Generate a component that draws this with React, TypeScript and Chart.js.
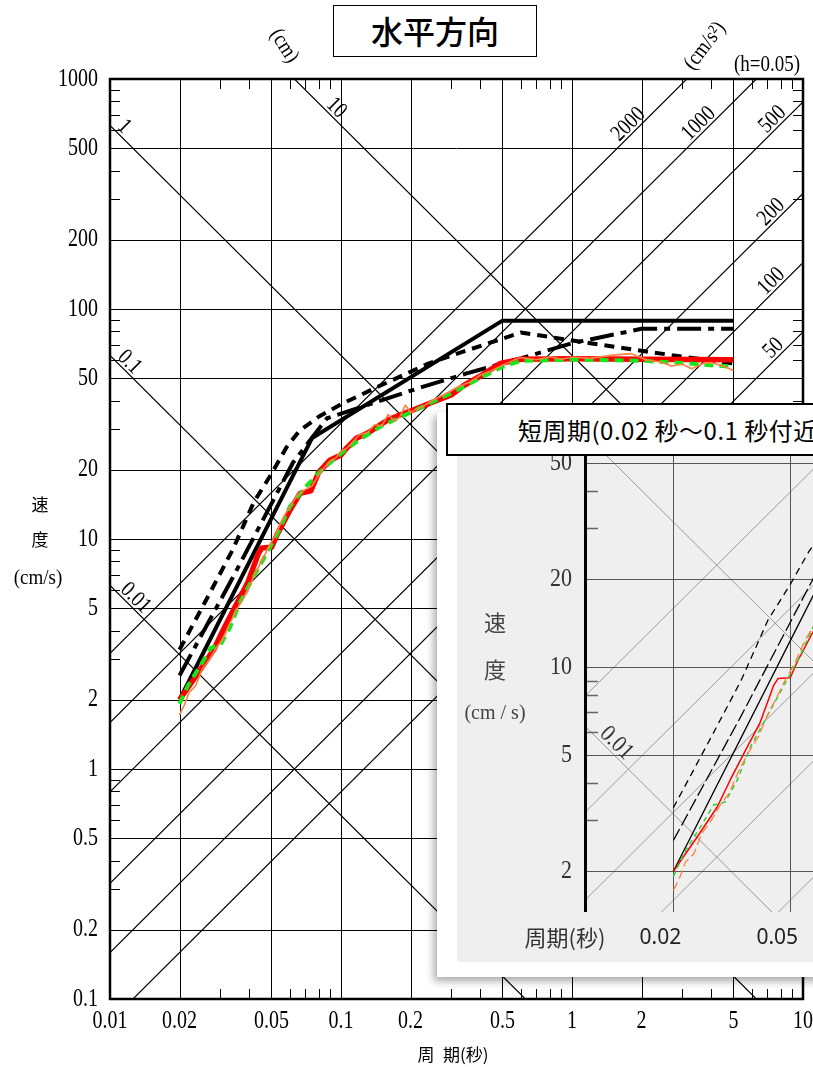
import React, { useEffect, useRef } from 'react';
import { Chart, registerables } from 'chart.js';
Chart.register(...registerables);

const TWO_PI = 2 * Math.PI;

// ===== series (period in s, velocity in cm/s) =====
const solidT = [0.02, 0.075, 0.5, 5];
const solidV = [2.0, 27.5, 89, 89];

const dashT = [0.02, 0.027, 0.034, 0.042, 0.05, 0.058, 0.066, 0.08, 0.1, 0.145, 0.24, 0.35, 0.6, 1.2, 2.7, 5];
const dashV = [3.3, 5.8, 9.0, 14.5, 19.2, 25, 29.5, 34, 38.5, 46, 58, 66, 79, 71, 63, 58];

const dashDotT = [0.02, 0.034, 0.062, 0.087, 0.22, 0.35, 0.6, 1.0, 2.0, 5];
const dashDotV = [2.55, 6.8, 21.5, 33.5, 45.5, 52.5, 61, 71, 82, 82];

const redT = [0.02, 0.0241, 0.0282, 0.0312, 0.0356, 0.0394, 0.044, 0.0455, 0.05, 0.053, 0.06, 0.0665, 0.074, 0.08, 0.0895, 0.1, 0.106, 0.117, 0.13, 0.143, 0.16, 0.18, 0.205, 0.25, 0.3, 0.34, 0.4, 0.49, 0.6, 1, 2, 5];
const redV = [2.0, 2.62, 3.32, 4.1, 5.3, 6.43, 8.7, 9.15, 9.2, 10.5, 13.3, 15.8, 16.2, 19.5, 22, 23.2, 24.9, 27.5, 28.8, 30.7, 33, 34.6, 36.4, 39.4, 42.3, 46.5, 51, 58, 60.5, 60.8, 60.5, 60.2];

const greenT = [0.02, 0.0217, 0.0247, 0.0274, 0.03, 0.033, 0.0365, 0.0404, 0.0474, 0.053, 0.06, 0.07, 0.08, 0.09, 0.1, 0.12, 0.15, 0.2, 0.25, 0.3, 0.4, 0.5, 0.6, 1, 2, 3, 5];
const greenV = [1.92, 2.3, 2.83, 3.37, 3.45, 4.1, 5.3, 6.4, 8.6, 10.5, 13.8, 16.8, 19.3, 21.5, 23.5, 27, 31, 35.5, 39.5, 43, 50, 56, 59.5, 60.2, 59.6, 58.2, 56];

const orangeT = [0.02, 0.021, 0.022, 0.0235, 0.025, 0.027, 0.029, 0.031, 0.033, 0.036, 0.039, 0.042, 0.045, 0.048, 0.052, 0.056, 0.06, 0.065, 0.07, 0.075, 0.08, 0.085, 0.09, 0.095, 0.1, 0.105, 0.11, 0.12, 0.13, 0.14, 0.15, 0.16, 0.17, 0.18, 0.19, 0.2, 0.21, 0.23, 0.25, 0.28, 0.32, 0.36, 0.4, 0.45, 0.5, 0.55, 0.6, 0.7, 0.8, 0.9, 1.0, 1.2, 1.5, 1.8, 2.1, 2.4, 2.7, 3.0, 3.3, 3.7, 4.0, 4.5, 5.0];
const orangeV = [1.72, 1.9, 2.15, 2.3, 2.7, 3.0, 3.4, 3.7, 4.3, 5.1, 5.8, 6.9, 7.9, 9.0, 10.4, 12.3, 13.8, 15.6, 16.4, 17.0, 19.0, 20.5, 21.8, 22.5, 24.2, 24.6, 25.8, 28.4, 29.0, 31.4, 31.0, 34.8, 32.5, 34.0, 38.2, 35.5, 36.5, 38.0, 40.2, 42.5, 45.8, 48.0, 51.5, 54.0, 57.0, 59.5, 61.5, 60.2, 62.0, 60.5, 61.8, 61.0, 63.0, 64.0, 60.0, 59.0, 56.5, 57.5, 55.0, 58.0, 58.5, 56.5, 54.0];

// ===== axes =====
const xTickValues = [0.01, 0.02, 0.05, 0.1, 0.2, 0.5, 1, 2, 5, 10];
const xTickLabels = ['0.01', '0.02', '0.05', '0.1', '0.2', '0.5', '1', '2', '5', '10'];
const yTickValues = [0.1, 0.2, 0.5, 1, 2, 5, 10, 20, 50, 100, 200, 500, 1000];
const yTickLabels = ['0.1', '0.2', '0.5', '1', '2', '5', '10', '20', '50', '100', '200', '500', '1000'];

// tripartite lines
const dispLines = [0.01, 0.1, 1, 10]; // cm
const dispLabels = ['0.01', '0.1', '1', '10'];
const accLines = [50, 100, 200, 500, 1000, 2000]; // cm/s2
const accLabels = ['50', '100', '200', '500', '1000', '2000'];

// inset axes
const insetXTickValues = [0.02, 0.05];
const insetXTickLabels = ['0.02', '0.05'];
const insetXGrid = [0.02, 0.05, 0.1];
const insetYTickValues = [2, 5, 10, 20, 50];
const insetYTickLabels = ['2', '5', '10', '20', '50'];
const insetMinorTicks = [3, 4, 6, 7, 8, 9, 30, 40];
const insetDispLines = [0.01, 0.1, 1];
const insetAccLines = [100, 200, 500, 1000, 2000, 5000];

// label anchor periods along the diagonal lines (layout config)
const dispLabelAnchorT = [0.0121, 0.0114, 0.0108, 0.0896];
const accLabelAnchorT = [7.95, 7.77, 7.77, 7.87, 3.77, 1.87];

const SERIF = '"Liberation Serif", "DejaVu Serif", serif';
const CJK = '"Noto Sans CJK JP", "Noto Sans", sans-serif';
const SANS = '"Noto Sans", "Open Sans", sans-serif';

const toPts = (T: number[], V: number[]) => T.map((t, i) => ({ x: t, y: V[i] }));

function txt(ctx: CanvasRenderingContext2D, s: string, x: number, y: number, font: string, o: any = {}) {
  ctx.save();
  ctx.translate(x, y);
  if (o.rot) ctx.rotate(o.rot);
  ctx.scale(1, o.sy ?? 1);
  ctx.font = font;
  ctx.fillStyle = o.color ?? '#000';
  ctx.textAlign = o.align ?? 'center';
  ctx.textBaseline = o.base ?? 'middle';
  ctx.fillText(s, 0, 0);
  ctx.restore();
}

function makeDatasets(thin: boolean) {
  return [
    { label: 'orange', data: toPts(orangeT, orangeV), borderColor: '#ff8040', borderWidth: thin ? 1.3 : 1.6, borderDash: thin ? [9, 4] : [], order: 0 },
    { label: 'green', data: toPts(greenT, greenV), borderColor: thin ? '#2fd02f' : '#19e619', borderWidth: thin ? 1.5 : 4, borderDash: thin ? [5, 4] : [9, 6], order: 1 },
    { label: 'red', data: toPts(redT, redV), borderColor: '#ff0000', borderWidth: thin ? 1.5 : 5.5, borderDash: [], order: 2 },
    { label: 'solid', data: toPts(solidT, solidV), borderColor: '#000', borderWidth: thin ? 1.3 : 4, borderDash: [], order: 3 },
    { label: 'dashdot', data: toPts(dashDotT, dashDotV), borderColor: '#000', borderWidth: thin ? 1.3 : 4, borderDash: thin ? [13, 4] : [24, 7, 6, 7], order: 4 },
    { label: 'dash', data: toPts(dashT, dashV), borderColor: '#000', borderWidth: thin ? 1.3 : 4, borderDash: thin ? [7, 5] : [10, 7], order: 5 },
  ].map((d) => ({ ...d, pointRadius: 0, fill: false, tension: 0, borderCapStyle: 'butt', borderJoinStyle: 'round' }));
}

function drawDiagonals(ctx: CanvasRenderingContext2D, X: (v: number) => number, Y: (v: number) => number, T0: number, T1: number, disp: number[], acc: number[]) {
  ctx.beginPath();
  disp.forEach((D) => {
    ctx.moveTo(X(T0), Y((TWO_PI * D) / T0));
    ctx.lineTo(X(T1), Y((TWO_PI * D) / T1));
  });
  acc.forEach((A) => {
    ctx.moveTo(X(T0), Y((A * T0) / TWO_PI));
    ctx.lineTo(X(T1), Y((A * T1) / TWO_PI));
  });
  ctx.stroke();
}

const mainPlugin = {
  id: 'mainDecor',
  beforeDatasetsDraw(chart: any) {
    const { ctx, chartArea: a } = chart;
    const xs = chart.scales.x, ys = chart.scales.y;
    const X = (v: number) => xs.getPixelForValue(v);
    const Y = (v: number) => ys.getPixelForValue(v);
    ctx.save();
    ctx.beginPath();
    ctx.rect(a.left, a.top, a.right - a.left, a.bottom - a.top);
    ctx.clip();
    ctx.strokeStyle = '#000';
    ctx.lineWidth = 1;
    ctx.beginPath();
    xTickValues.slice(1, -1).forEach((v) => {
      const p = Math.round(X(v)) + 0.5;
      ctx.moveTo(p, a.top);
      ctx.lineTo(p, a.bottom);
    });
    yTickValues.slice(1, -1).forEach((v) => {
      const p = Math.round(Y(v)) + 0.5;
      ctx.moveTo(a.left, p);
      ctx.lineTo(a.right, p);
    });
    ctx.stroke();
    ctx.lineWidth = 1.2;
    drawDiagonals(ctx, X, Y, xs.min, xs.max, dispLines, accLines);
    ctx.restore();
  },
  afterDatasetsDraw(chart: any) {
    const { ctx, chartArea: a } = chart;
    const xs = chart.scales.x, ys = chart.scales.y;
    const X = (v: number) => xs.getPixelForValue(v);
    const Y = (v: number) => ys.getPixelForValue(v);
    ctx.save();
    // minor ticks
    ctx.strokeStyle = '#000';
    ctx.lineWidth = 1;
    ctx.beginPath();
    const mins = [3, 4, 6, 7, 8, 9];
    for (let e = -1; e <= 2; e++) {
      mins.forEach((m) => {
        const p = Math.round(Y(m * Math.pow(10, e))) + 0.5;
        ctx.moveTo(a.left, p); ctx.lineTo(a.left + 10, p);
        ctx.moveTo(a.right, p); ctx.lineTo(a.right - 10, p);
      });
    }
    for (let e = -2; e <= 0; e++) {
      mins.forEach((m) => {
        const p = Math.round(X(m * Math.pow(10, e))) + 0.5;
        ctx.moveTo(p, a.top); ctx.lineTo(p, a.top + 10);
        ctx.moveTo(p, a.bottom); ctx.lineTo(p, a.bottom - 10);
      });
    }
    ctx.stroke();
    // frame
    ctx.lineWidth = 2.5;
    ctx.strokeRect(a.left, a.top, a.right - a.left, a.bottom - a.top);

    const tickFont = `20px ${SERIF}`;
    yTickValues.forEach((v, i) => txt(ctx, yTickLabels[i], 98, Y(v), tickFont, { align: 'right', sy: 1.25 }));
    xTickValues.forEach((v, i) => txt(ctx, xTickLabels[i], X(v), a.bottom + 22, tickFont, { sy: 1.25 }));

    // diagonal labels
    const off = 9;
    dispLines.forEach((D, i) => {
      const t = dispLabelAnchorT[i];
      const px = X(t), py = Y((TWO_PI * D) / t);
      const qx = X(t * 1.5), qy = Y((TWO_PI * D) / (t * 1.5));
      const ang = Math.atan2(qy - py, qx - px);
      const cx = px + off * Math.sin(ang), cy = py - off * Math.cos(ang);
      txt(ctx, dispLabels[i], cx, cy, `19px ${SERIF}`, { rot: ang, sy: 1.2 });
    });
    accLines.forEach((A, i) => {
      const t = accLabelAnchorT[i];
      const px = X(t), py = Y((A * t) / TWO_PI);
      const qx = X(t * 1.5), qy = Y((A * t * 1.5) / TWO_PI);
      const ang = Math.atan2(qy - py, qx - px);
      const cx = px + off * Math.sin(ang), cy = py - off * Math.cos(ang);
      txt(ctx, accLabels[i], cx, cy, `19px ${SERIF}`, { rot: ang, sy: 1.2 });
    });

    // unit labels
    txt(ctx, '(cm)', 284, 46, `19px ${SERIF}`, { rot: 1.0, sy: 1.15 });
    txt(ctx, '(cm/s²)', 705, 46, `19px ${SERIF}`, { rot: -0.92, sy: 1.15 });
    txt(ctx, '(h=0.05)', 767, 65, `19px ${SERIF}`, { sy: 1.2 });

    // axis titles
    txt(ctx, '速', 40, 505, `17px ${CJK}`);
    txt(ctx, '度', 40, 540, `17px ${CJK}`);
    txt(ctx, '(cm/s)', 38, 578, `19px ${SERIF}`, { sy: 1.15 });
    txt(ctx, '周', 426, 1055, `17px ${CJK}`);
    txt(ctx, '期(秒)', 443, 1055, `17px ${CJK}`, { align: 'left' });
    ctx.restore();
  },
};

const insetPlugin = {
  id: 'insetDecor',
  beforeDatasetsDraw(chart: any) {
    const { ctx, chartArea: a } = chart;
    const xs = chart.scales.x, ys = chart.scales.y;
    const X = (v: number) => xs.getPixelForValue(v);
    const Y = (v: number) => ys.getPixelForValue(v);
    ctx.save();
    ctx.beginPath();
    ctx.rect(a.left, a.top, a.right - a.left, a.bottom - a.top);
    ctx.clip();
    ctx.strokeStyle = '#9a9a9a';
    ctx.lineWidth = 1;
    drawDiagonals(ctx, X, Y, xs.min, xs.max, insetDispLines, insetAccLines);
    ctx.strokeStyle = '#555';
    ctx.beginPath();
    insetXGrid.forEach((v) => {
      const p = Math.round(X(v)) + 0.5;
      ctx.moveTo(p, a.top); ctx.lineTo(p, a.bottom);
    });
    insetYTickValues.forEach((v) => {
      const p = Math.round(Y(v)) + 0.5;
      ctx.moveTo(a.left, p); ctx.lineTo(a.right, p);
    });
    ctx.stroke();
    ctx.strokeStyle = '#666';
    ctx.lineWidth = 1.3;
    ctx.beginPath();
    insetMinorTicks.forEach((v) => {
      const p = Math.round(Y(v)) + 0.5;
      ctx.moveTo(a.left, p); ctx.lineTo(a.left + 13, p);
    });
    ctx.stroke();
    ctx.restore();
  },
  afterDatasetsDraw(chart: any) {
    const { ctx, chartArea: a } = chart;
    const xs = chart.scales.x, ys = chart.scales.y;
    const X = (v: number) => xs.getPixelForValue(v);
    const Y = (v: number) => ys.getPixelForValue(v);
    ctx.save();
    ctx.strokeStyle = '#000';
    ctx.lineWidth = 3;
    ctx.beginPath();
    ctx.moveTo(a.left + 0.5, a.top);
    ctx.lineTo(a.left + 0.5, a.bottom);
    ctx.stroke();
    insetYTickValues.forEach((v, i) => txt(ctx, insetYTickLabels[i], a.left - 13, Y(v), `22px ${SERIF}`, { align: 'right', sy: 1.12, color: '#333' }));
    insetXTickValues.forEach((v, i) => txt(ctx, insetXTickLabels[i], X(v) - 13, a.bottom + 26, `21px ${SANS}`, { color: '#222' }));
    txt(ctx, '周期(秒)', 108, a.bottom + 26, `22px ${CJK}`, { color: '#333' });
    txt(ctx, '速', 38, 183, `22px ${CJK}`, { color: '#444' });
    txt(ctx, '度', 38, 230, `22px ${CJK}`, { color: '#444' });
    txt(ctx, '(cm / s)', 38, 273, `20px ${SERIF}`, { color: '#444', sy: 1.1 });
    // 0.01 label on displacement line
    const t = 0.0121, D = 0.01;
    const px = X(t), py = Y((TWO_PI * D) / t);
    const qx = X(t * 1.5), qy = Y((TWO_PI * D) / (t * 1.5));
    const ang = Math.atan2(qy - py, qx - px);
    txt(ctx, '0.01', px + 10 * Math.sin(ang), py - 10 * Math.cos(ang), `21px ${SERIF}`, { rot: ang, sy: 1.15, color: '#333' });
    ctx.restore();
  },
};

export default function App() {
  const mainRef = useRef<HTMLCanvasElement>(null);
  const insetRef = useRef<HTMLCanvasElement>(null);

  useEffect(() => {
    const main = new Chart(mainRef.current as HTMLCanvasElement, {
      type: 'line',
      data: { datasets: makeDatasets(false) as any },
      options: {
        responsive: false,
        animation: false,
        devicePixelRatio: 1,
        layout: { padding: { left: 110, top: 79, right: 10, bottom: 68 } },
        plugins: { legend: { display: false }, tooltip: { enabled: false } },
        scales: {
          x: { type: 'logarithmic', min: 0.01, max: 10, display: false },
          y: { type: 'logarithmic', min: 0.1, max: 1000, display: false },
        },
      } as any,
      plugins: [mainPlugin],
    });
    const inset = new Chart(insetRef.current as HTMLCanvasElement, {
      type: 'line',
      data: { datasets: makeDatasets(true) as any },
      options: {
        responsive: false,
        animation: false,
        devicePixelRatio: 1,
        layout: { padding: { left: 128, top: 0, right: 46, bottom: 50 } },
        plugins: { legend: { display: false }, tooltip: { enabled: false } },
        scales: {
          x: { type: 'logarithmic', min: 0.01, max: 0.2, display: false },
          y: { type: 'logarithmic', min: 1.45, max: 60, display: false },
        },
      } as any,
      plugins: [insetPlugin],
    });
    return () => {
      main.destroy();
      inset.destroy();
    };
  }, []);

  return (
    <div style={{ position: 'fixed', left: 0, top: 0, width: 813, height: 1067, overflow: 'hidden', background: '#fff' }}>
      <canvas ref={mainRef} width={813} height={1067} style={{ position: 'absolute', left: 0, top: 0 }} />
      <div
        style={{
          position: 'absolute', left: 333, top: 5, width: 204, height: 52, boxSizing: 'border-box',
          border: '1.5px solid #000', background: '#fff', textAlign: 'center',
          font: `500 32px ${CJK}`, lineHeight: '48px', color: '#000',
        }}
      >
        水平方向
      </div>
      <div
        style={{
          position: 'absolute', left: 437, top: 412, width: 500, height: 565, background: '#fff',
          boxShadow: '-3px 4px 8px rgba(0,0,0,0.35)',
        }}
      />
      <canvas ref={insetRef} width={556} height={522} style={{ position: 'absolute', left: 457, top: 440, background: '#efefef' }} />
      <div
        style={{
          position: 'absolute', left: 446, top: 403, width: 520, height: 53, boxSizing: 'border-box',
          border: '2px solid #000', background: '#fff', whiteSpace: 'nowrap', overflow: 'hidden',
          font: `24px ${CJK}`, letterSpacing: '0.5px', lineHeight: '49px', paddingLeft: 70, color: '#000',
        }}
      >
        短周期(0.02 秒～0.1 秒付近)
      </div>
    </div>
  );
}
